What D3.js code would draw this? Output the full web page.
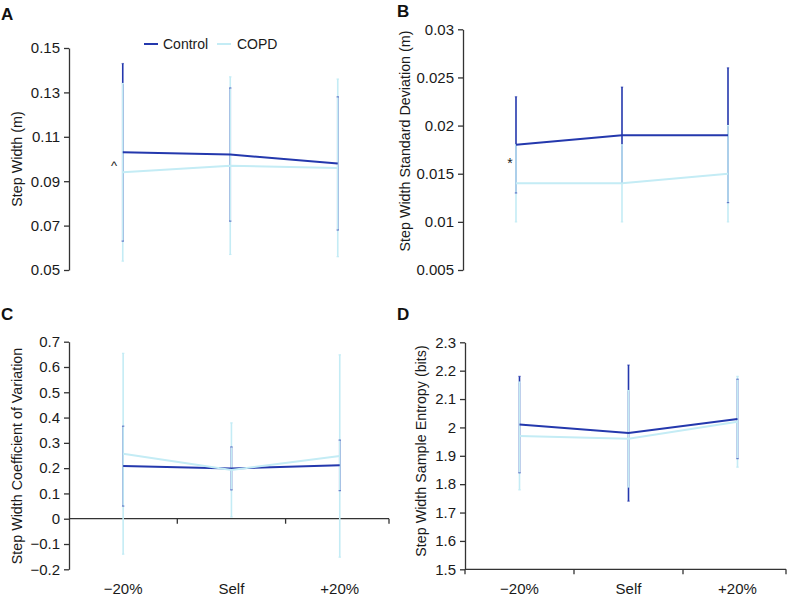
<!DOCTYPE html>
<html><head><meta charset="utf-8">
<script src="https://cdn.jsdelivr.net/npm/d3@7"></script>
<style>body{margin:0;background:#fff;} text{font-family:"Liberation Sans",Arial,Helvetica,sans-serif;}</style>
</head><body>
<script>
const categories = ["\u221220%", "Self", "+20%"];
const seriesNames = ["Control", "COPD"];

// A: Step Width (m)
const widthControlMean = [0.103, 0.102, 0.098];
const widthControlSD   = [0.040, 0.030, 0.030];
const widthCopdMean    = [0.094, 0.097, 0.096];
const widthCopdSD      = [0.040, 0.040, 0.040];
const widthTicks = [0.05, 0.07, 0.09, 0.11, 0.13, 0.15];

// B: Step Width Standard Deviation (m)
const sdControlMean = [0.018, 0.019, 0.019];
const sdControlSD   = [0.005, 0.005, 0.007];
const sdCopdMean    = [0.014, 0.014, 0.015];
const sdCopdSD      = [0.004, 0.004, 0.005];
const sdTicks = [0.005, 0.01, 0.015, 0.02, 0.025, 0.03];

// C: Step Width Coefficient of Variation
const cvControlMean = [0.208, 0.199, 0.211];
const cvControlSD   = [0.158, 0.085, 0.100];
const cvCopdMean    = [0.257, 0.193, 0.248];
const cvCopdSD      = [0.397, 0.186, 0.400];
const cvTicks = [-0.2, -0.1, 0, 0.1, 0.2, 0.3, 0.4, 0.5, 0.6, 0.7];

// D: Step Width Sample Entropy (bits)
const seControlMean = [2.01, 1.98, 2.03];
const seControlSD   = [0.17, 0.24, 0.14];
const seCopdMean    = [1.97, 1.96, 2.02];
const seCopdSD      = [0.19, 0.17, 0.16];
const seTicks = [1.5, 1.6, 1.7, 1.8, 1.9, 2, 2.1, 2.2, 2.3];

const colors = {Control: "#2438ad", COPD: "#c4ecf5"};
const svg = d3.select("body").append("svg").attr("width", 790).attr("height", 596);
const fmt = d3.format("~g");

function panel(cfg) {
  const g = svg.append("g");
  const y = d3.scaleLinear().domain([cfg.ticks[0], cfg.ticks[cfg.ticks.length-1]]).range([cfg.yBottom, cfg.yTop]);
  const x = d3.scaleBand().domain(categories).range([cfg.xLeft, cfg.xLeft + 3*cfg.band]);
  const cx = c => x(c) + x.bandwidth()/2;

  g.append("text").attr("x", cfg.letterX).attr("y", cfg.letterY).text(cfg.letter)
    .attr("font-size", 17).attr("font-weight", "bold").attr("fill", "#111");

  const ya = g.append("g").attr("transform", `translate(${cfg.xLeft},0)`)
    .call(d3.axisLeft(y).tickValues(cfg.ticks).tickFormat(fmt).tickSize(5).tickSizeOuter(0).tickPadding(4));
  ya.selectAll("text").attr("font-size", 15).attr("fill", "#1a1a1a").style("font-family", "Liberation Sans, Arial, sans-serif");
  ya.selectAll("path,line").attr("stroke", "#333").attr("stroke-width", 1.3);

  g.append("text").attr("transform", `translate(${cfg.titleX},${cfg.titleY}) rotate(-90)`)
    .attr("text-anchor", "middle").attr("font-size", 14.3).attr("fill", "#1a1a1a").text(cfg.title);

  if (cfg.xAxisAt !== undefined) {
    const yy = y(cfg.xAxisAt);
    const xa = g.append("g");
    xa.append("line").attr("x1", cfg.xLeft).attr("x2", cfg.xEnd).attr("y1", yy).attr("y2", yy)
      .attr("stroke", "#333").attr("stroke-width", 1.3);
    const bounds = categories.slice(1).map(c => x(c)).concat([cfg.xEnd]);
    if (cfg.tickAtStart) bounds.unshift(cfg.xLeft);
    xa.selectAll(".t").data(bounds).join("line").attr("x1", d => d).attr("x2", d => d)
      .attr("y1", yy).attr("y2", yy + 5).attr("stroke", "#333").attr("stroke-width", 1.3);
  }
  if (cfg.showLabels) {
    g.selectAll(".xl").data(categories).join("text").attr("x", c => cx(c)).attr("y", cfg.labelY)
      .attr("text-anchor", "middle").attr("font-size", 15).attr("fill", "#1a1a1a").text(c => c);
  }

  const series = [
    {name: "Control", mean: cfg.cm, sd: cfg.csd},
    {name: "COPD", mean: cfg.pm, sd: cfg.psd}
  ];
  const pts = s => categories.map((c, i) => ({c, m: s.mean[i], sd: s.sd[i]}));

  series.forEach(s => {
    g.append("g").selectAll("line").data(pts(s)).join("line")
      .attr("x1", d => cx(d.c)).attr("x2", d => cx(d.c))
      .attr("y1", d => y(d.m + d.sd)).attr("y2", d => y(d.m - d.sd))
      .attr("stroke", colors[s.name]).attr("stroke-width", 1.6);
  });
  [series[1], series[0]].forEach(s => {
    const capG = g.append("g");
    pts(s).forEach(d => {
      [d.m + d.sd, d.m - d.sd].forEach(v => {
        capG.append("line").attr("x1", cx(d.c) - 1.2).attr("x2", cx(d.c) + 1.2)
          .attr("y1", y(v)).attr("y2", y(v))
          .attr("stroke", colors[s.name]).attr("stroke-width", 1.2).attr("opacity", s.name === "Control" ? 0.6 : 1);
      });
    });
  });
  const line = d3.line().x(d => cx(d.c)).y(d => y(d.m));
  series.forEach(s => {
    g.append("path").datum(pts(s)).attr("d", line).attr("fill", "none")
      .attr("stroke", colors[s.name]).attr("stroke-width", 2);
  });

  if (cfg.mark) {
    g.append("text").attr("x", cfg.mark.x).attr("y", cfg.mark.y).attr("text-anchor", "middle")
      .attr("font-size", cfg.mark.size).attr("fill", "#222").text(cfg.mark.t);
  }
  return {x, y};
}

panel({letter: "A", letterX: 1, letterY: 20, xLeft: 69, band: 107.5, yTop: 48, yBottom: 270,
  ticks: widthTicks, title: "Step Width (m)", titleX: 22, titleY: 159,
  cm: widthControlMean, csd: widthControlSD, pm: widthCopdMean, psd: widthCopdSD,
  mark: {x: 114, y: 170, t: "^", size: 13}});

panel({letter: "B", letterX: 397, letterY: 17, xLeft: 463, band: 106, yTop: 29.3, yBottom: 270,
  ticks: sdTicks, title: "Step Width Standard Deviation (m)", titleX: 410, titleY: 141,
  cm: sdControlMean, csd: sdControlSD, pm: sdCopdMean, psd: sdCopdSD,
  mark: {x: 510, y: 168, t: "*", size: 14}});

panel({letter: "C", letterX: 1, letterY: 320, xLeft: 69, band: 108.3, xEnd: 389, yTop: 341.7, yBottom: 569.3,
  ticks: cvTicks, title: "Step Width Coefficient of Variation", titleX: 22, titleY: 456,
  cm: cvControlMean, csd: cvControlSD, pm: cvCopdMean, psd: cvCopdSD,
  xAxisAt: 0, showLabels: true, labelY: 594});

panel({letter: "D", letterX: 397, letterY: 320, xLeft: 465, band: 109, xEnd: 786, yTop: 342.3, yBottom: 569.3,
  ticks: seTicks, title: "Step Width Sample Entropy (bits)", titleX: 426, titleY: 451,
  cm: seControlMean, csd: seControlSD, pm: seCopdMean, psd: seCopdSD,
  xAxisAt: 1.5, tickAtStart: true, showLabels: true, labelY: 594});

const leg = svg.append("g");
const legItems = [{n: "Control", x: 144, tx: 163}, {n: "COPD", x: 217, tx: 237}];
legItems.forEach(d => {
  leg.append("line").attr("x1", d.x).attr("x2", d.x + 14).attr("y1", 44).attr("y2", 44)
    .attr("stroke", colors[d.n]).attr("stroke-width", 2);
  leg.append("text").attr("x", d.tx).attr("y", 49).attr("font-size", 14).attr("fill", "#1a1a1a").text(d.n);
});
</script>
</body></html>
